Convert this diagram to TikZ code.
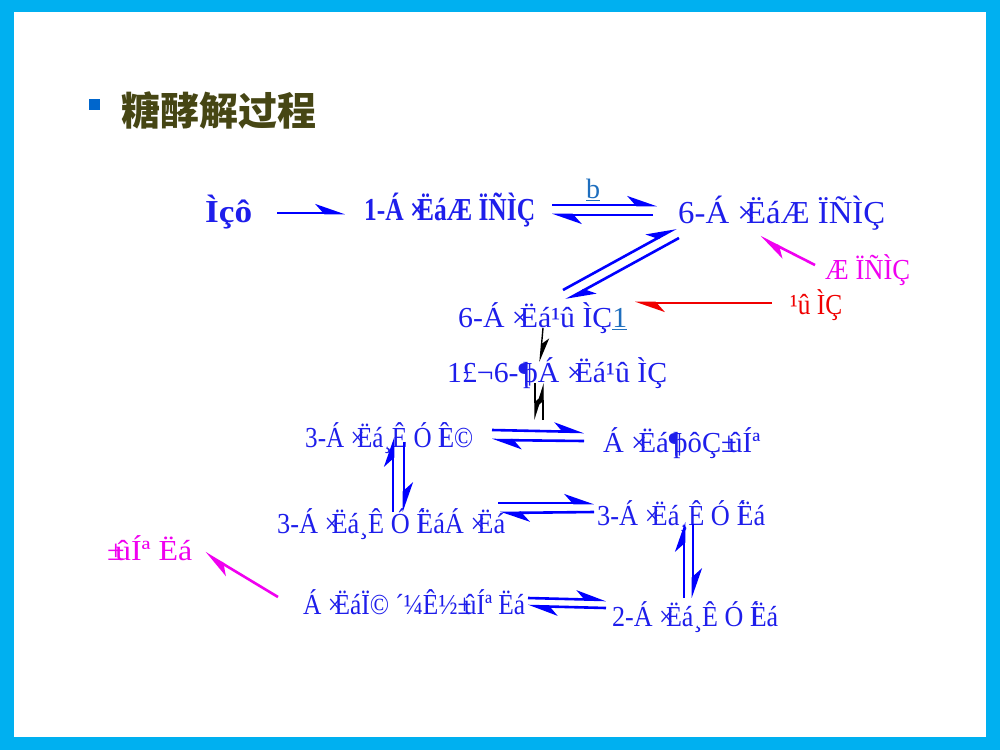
\documentclass[tikz,border=0pt]{standalone}
\usepackage{fontspec}
\usepackage{graphicx}
\setmainfont{Liberation Serif}
\newfontfamily\cjk{Noto Sans CJK SC}
\usetikzlibrary{arrows.meta}
\definecolor{frame}{RGB}{0,176,240}
\definecolor{txtblue}{RGB}{30,30,235}
\definecolor{arrblue}{RGB}{0,0,255}
\definecolor{pinkc}{RGB}{240,0,240}
\definecolor{redc}{RGB}{240,0,0}
\definecolor{linkc}{RGB}{30,110,190}
\definecolor{olive}{RGB}{70,70,20}
\definecolor{bullet}{RGB}{0,102,204}
\newcommand{\ov}[2]{#1\kern-0.3em #2}
\newcommand{\fitw}[2]{\resizebox{#1pt}{\height}{#2}}
\tikzset{
  lbl/.style={font=\fontsize{29}{31}\selectfont, text=txtblue, inner sep=0pt, anchor=west},
  big/.style={font=\fontsize{32}{34}\selectfont},
  eq/.style={line width=2.6pt, draw=arrblue, -{Stealth[harpoon,length=26pt,width=18pt,inset=8pt]}},
  blk/.style={line width=1.4pt, draw=black, -{Stealth[harpoon,length=22pt,width=14pt,inset=6pt]}},
}
\begin{document}
\begin{tikzpicture}[x=1pt,y=-1pt]
\useasboundingbox (0,0) rectangle (1000,750);
\fill[frame] (0,0) rectangle (1000,750);
\fill[white] (14,12) rectangle (986,737);
% title
\fill[bullet] (89,99) rectangle (100,110);
\node[anchor=west, inner sep=0pt, text=olive, font=\cjk\bfseries\fontsize{39}{41}\selectfont] (title) at (121,111) {\fitw{195}{糖酵解过程}};
% nodes
\node[lbl, big] (A) at (205,212) {\fitw{47}{\bfseries Ìçô}};
\node[lbl, big] (B) at (364,210) {\fitw{171}{\bfseries 1-Á \ov{×}{Ë}áÆ ÏÑÌÇ}};
\node[lbl, big] (C) at (678,213) {\fitw{207}{6-Á \ov{×}{Ë}áÆ ÏÑÌÇ}};
\node[lbl, text=pinkc] (Cp) at (825,270) {\fitw{85}{Æ ÏÑÌÇ}};
\node[lbl] (D) at (458,318) {\fitw{169}{6-Á \ov{×}{Ë}á¹û ÌÇ\textcolor{linkc}{\underline{1}}}};
\node[lbl, text=redc] (Dr) at (790,305) {\fitw{52}{¹û ÌÇ}};
\node[lbl] (E) at (447,373) {\fitw{220}{1£¬6-\ov{¶}{þ}Á \ov{×}{Ë}á¹û ÌÇ}};
\node[lbl] (F) at (305,438) {\fitw{168}{3-Á \ov{×}{Ë}á¸Ê Ó \ov{Í}{È}©}};
\node[lbl] (G) at (603,443) {\fitw{157}{Á \ov{×}{Ë}á\ov{¶}{þ}ôÇ\ov{±}{û}Íª}};
\node[lbl] (H) at (277,524) {\fitw{228}{3-Á \ov{×}{Ë}á¸Ê Ó \ov{Í}{Ë}áÁ \ov{×}{Ë}á}};
\node[lbl] (I) at (597,516) {\fitw{168}{3-Á \ov{×}{Ë}á¸Ê Ó \ov{Í}{Ë}á}};
\node[lbl] (J) at (612,617) {\fitw{166}{2-Á \ov{×}{Ë}á¸Ê Ó \ov{Í}{Ë}á}};
\node[lbl] (K) at (303,602) {\fitw{222}{Á \ov{×}{Ë}áÏ© ´¼Ê½\ov{±}{û}Íª Ëá}};
\node[lbl, text=pinkc] (Kp) at (107,548) {\fitw{85}{\ov{±}{û}Íª Ëá}};
\node[anchor=south, inner sep=0pt, text=linkc, font=\fontsize{28}{30}\selectfont] (blab) at (593,201) {\underline{b}};
% coordinates
\coordinate (a1) at (277,213); \coordinate (a2) at (345,213);
\coordinate (bc1) at (552,205); \coordinate (bc2) at (657,205);
\coordinate (bc3) at (653,215); \coordinate (bc4) at (552,215);
\coordinate (cd1) at (563,290); \coordinate (cd2) at (676,228);
\coordinate (cd3) at (679,238); \coordinate (cd4) at (566,300);
\coordinate (cp1) at (815,265); \coordinate (cp2) at (760,237);
\coordinate (dr1) at (772,303); \coordinate (dr2) at (635,303);
\coordinate (de1) at (543,328); \coordinate (de2) at (540,362);
\coordinate (ef1) at (535,383); \coordinate (ef2) at (535,420);
\coordinate (ef3) at (543,420); \coordinate (ef4) at (543,383);
\coordinate (fg1) at (492,430); \coordinate (fg2) at (584,432);
\coordinate (fg3) at (584,441); \coordinate (fg4) at (492,440);
\coordinate (fh1) at (393,512); \coordinate (fh2) at (393,437);
\coordinate (fh3) at (404,442); \coordinate (fh4) at (404,512);
\coordinate (hi1) at (498,503); \coordinate (hi2) at (594,503);
\coordinate (hi3) at (594,512); \coordinate (hi4) at (500,513);
\coordinate (ij1) at (684,598); \coordinate (ij2) at (684,522);
\coordinate (ij3) at (693,524); \coordinate (ij4) at (693,598);
\coordinate (kj1) at (528,598); \coordinate (kj2) at (606,600);
\coordinate (kj3) at (606,608); \coordinate (kj4) at (528,606);
\coordinate (kp1) at (278,597); \coordinate (kp2) at (205,553);
% arrows
\draw[eq] (a1) -- (a2);
\draw[eq] (bc1) -- (bc2);
\draw[eq] (bc3) -- (bc4);
\draw[eq] (cd1) -- (cd2);
\draw[eq] (cd3) -- (cd4);
\draw[eq, draw=pinkc] (cp1) -- (cp2);
\draw[eq, draw=redc] (dr1) -- (dr2);
\draw[blk] (de1) -- (de2);
\draw[blk] (ef1) -- (ef2);
\draw[blk] (ef3) -- (ef4);
\draw[eq] (fg1) -- (fg2);
\draw[eq] (fg3) -- (fg4);
\draw[eq] (fh1) -- (fh2);
\draw[eq] (fh3) -- (fh4);
\draw[eq] (hi1) -- (hi2);
\draw[eq] (hi3) -- (hi4);
\draw[eq] (ij1) -- (ij2);
\draw[eq] (ij3) -- (ij4);
\draw[eq] (kj1) -- (kj2);
\draw[eq] (kj3) -- (kj4);
\draw[eq, draw=pinkc] (kp1) -- (kp2);
\end{tikzpicture}
\end{document}
